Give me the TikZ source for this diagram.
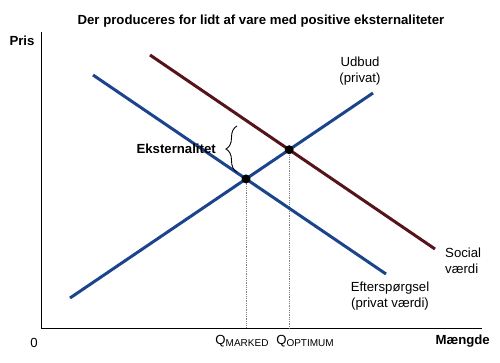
\documentclass[tikz,border=0pt]{standalone}
\usepackage{fontspec}
\setmainfont{Liberation Sans}
\usetikzlibrary{intersections,decorations.pathreplacing}
\definecolor{curveblue}{RGB}{28,68,140}
\definecolor{socialred}{RGB}{85,20,25}
\tikzset{
  curve/.style={line width=3pt},
  lbl/.style={font=\fontsize{13.2}{15.5}\selectfont, align=center, inner sep=0pt},
  boldlbl/.style={font=\fontsize{13.2}{15}\selectfont\bfseries, inner sep=0pt},
  dot/.style={circle, fill=black, inner sep=0pt, minimum size=9pt},
  guide/.style={gray, densely dotted, line width=0.8pt},
  axis/.style={line width=0.8pt}
}
\begin{document}
\begin{tikzpicture}[x=1pt,y=-1pt]
\useasboundingbox (0,0) rectangle (500,362);
% axes
\coordinate (O) at (41,328);
\coordinate (ytop) at (41,32);
\coordinate (xend) at (482,328);
\draw[axis] (ytop) -- (O) -- (xend);
% curves
\coordinate (s1) at (70,298);
\coordinate (s2) at (373,93);
\coordinate (d1) at (93,75);
\coordinate (d2) at (386,274);
\coordinate (v1) at (150,55);
\coordinate (v2) at (435,249);
\path[name path=supply] (s1) -- (s2);
\path[name path=demand] (d1) -- (d2);
\path[name path=social] (v1) -- (v2);
\path[name intersections={of=supply and demand, by=M}];
\path[name intersections={of=supply and social, by=P}];
\coordinate (Mx) at (M |- O);
\coordinate (Px) at (P |- O);
\draw[guide] (M) -- (Mx);
\draw[guide] (P) -- (Px);
\draw[curve, socialred] (v1) -- (v2);
\draw[curve, curveblue] (s1) -- (s2);
\draw[curve, curveblue] (d1) -- (d2);
\node[dot] (mdot) at (M) {};
\node[dot] (pdot) at (P) {};
% brace
\coordinate (btop) at (237,126);
\coordinate (bbot) at (237,172);
\draw[line width=0.9pt, decorate, decoration={brace, amplitude=11pt, aspect=0.5}] (bbot) -- (btop);
\node[boldlbl, anchor=east] (ext) at (216,149) {Eksternalitet};
% labels
\node[boldlbl] (title) at (261,21) {Der produceres for lidt af vare med positive eksternaliteter};
\node[boldlbl] (pris) at (22,41) {Pris};
\node[lbl] (zero) at (34,343) {0};
\node[boldlbl, anchor=east] (maengde) at (490,341) {Mængde};
\node[lbl] (udbud) at (360,71) {Udbud\\(privat)};
\node[lbl, align=left, anchor=west, font=\fontsize{13.2}{16.5}\selectfont] (social) at (445,261) {Social\\værdi};
\node[lbl] (eft) at (390,296) {Efterspørgsel\\(privat værdi)};
\node[lbl] (qm) at (242,341) {Q\raisebox{-2.5pt}{\fontsize{10}{11}\selectfont MARKED}};
\node[lbl] (qo) at (305,341) {Q\raisebox{-2.5pt}{\fontsize{10}{11}\selectfont OPTIMUM}};
\end{tikzpicture}
\end{document}
